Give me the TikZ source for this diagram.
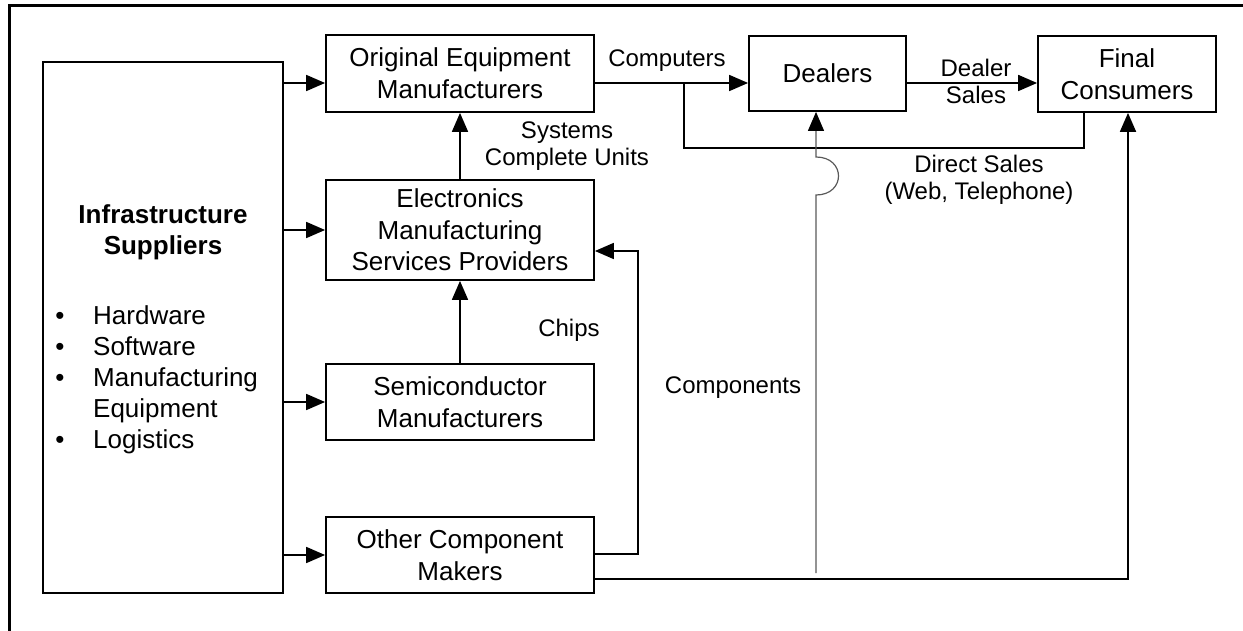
\documentclass[tikz,border=0pt]{standalone}
\usepackage{fontspec}
\setmainfont{Liberation Sans}
\usetikzlibrary{arrows.meta}

\newcommand\boxtextfont{\fontsize{26}{31.6}\selectfont}
\newcommand\labeltextfont{\fontsize{24}{27}\selectfont}

\begin{document}
\begin{tikzpicture}[x=1pt,y=-1pt,
  box/.style={draw, line width=1.8pt, inner sep=0pt, align=center, font=\boxtextfont},
  lbl/.style={inner sep=0pt, anchor=base, font=\labeltextfont},
  listtext/.style={inner sep=0pt, anchor=base west, font=\boxtextfont},
  conn/.style={line width=1.8pt, line join=miter},
  arr/.style={conn, -{Triangle[length=19pt,width=16pt]}},
]
\useasboundingbox (0,0) rectangle (1243,631);

% outer frame (top and left edges only)
\draw[line width=3pt, line join=miter] (1243,5.5) -- (9.5,5.5) -- (9.5,631);

% boxes
\node[box, minimum width=240pt, minimum height=531pt] (infra) at (163,327.5) {};
\node[box, minimum width=268pt, minimum height=77pt] (oem) at (460,73.5)
  {Original Equipment\\Manufacturers};
\node[box, minimum width=268pt, minimum height=100pt] (ems) at (460,230)
  {Electronics\\Manufacturing\\Services Providers};
\node[box, minimum width=268pt, minimum height=76pt] (semi) at (460,402)
  {Semiconductor\\Manufacturers};
\node[box, minimum width=268pt, minimum height=76pt] (other) at (460,555)
  {Other Component\\Makers};
\node[box, minimum width=157pt, minimum height=75pt] (dealers) at (827.5,73.5) {Dealers};
\node[box, minimum width=178pt, minimum height=76pt] (final) at (1127,74)
  {Final\\Consumers};

% text of the infrastructure box
\node[inner sep=0pt, anchor=base, font=\boxtextfont\bfseries] (infT1) at (163,224) {Infrastructure};
\node[inner sep=0pt, anchor=base, font=\boxtextfont\bfseries] (infT2) at (163,255) {Suppliers};
\foreach \y/\t/\b [count=\i] in {324/Hardware/1, 355/Software/1, 386/Manufacturing/1,
                                 417/Equipment/0, 448/Logistics/1}{
  \node[listtext] (item\i) at (93,\y) {\t};
  \ifnum\b=1
    \node[inner sep=0pt, anchor=base, font=\boxtextfont] (bul\i) at (60,\y) {\textbullet};
  \fi
}

% connector levels and bends
\coordinate (lvtop) at (0,83);
\coordinate (brX) at (684,148);
\coordinate (brR) at (1084,148);
\coordinate (cmpY) at (0,554);
\coordinate (cmpX) at (638,251);
\coordinate (botY) at (1128,579);
\coordinate (dlA) at (816,573);
\coordinate (dlB) at (816,195);
\coordinate (dlC) at (816,157);

% supplier arrows
\draw[arr] (infra.east |- lvtop) -- (oem.west |- lvtop);
\draw[arr] (infra.east |- ems.west) -- (ems.west);
\draw[arr] (infra.east |- semi.west) -- (semi.west);
\draw[arr] (infra.east |- other.west) -- (other.west);

% vertical flow
\draw[arr] (semi.north) -- (ems.south);
\draw[arr] (ems.north) -- (oem.south);

% computers to dealers, dealers to consumers
\draw[arr] (oem.east |- lvtop) -- (dealers.west |- lvtop);
\draw[arr] (dealers.east |- lvtop) -- (final.west |- lvtop);

% direct sales
\draw[conn] (brX |- lvtop) -- (brX) -- (brR) -- (brR |- final.south);

% components back to EMS
\draw[conn, -{Triangle[length=19pt,width=16pt]}]
  (other.east |- cmpY) -- (cmpX |- cmpY) -- (cmpX) -- (ems.east |- cmpX);

% other components to final consumers
\draw[arr] (other.east |- botY) -- (botY) -- (botY |- final.south);

% components to dealers, hopping over the direct-sales line
\draw[line width=1.2pt, black!65, -{Triangle[length=19pt,width=16pt,black]}]
  (dlA) -- (dlB) .. controls ++(30,0) and ++(30,0) .. (dlC) -- (dlC |- dealers.south);

% labels
\node[lbl] (lComp) at (667,67) {Computers};
\node[lbl] (lDealer) at (976,77) {Dealer};
\node[lbl] (lSales) at (976,104) {Sales};
\node[lbl] (lSys) at (567,139) {Systems};
\node[lbl] (lUnits) at (567,166) {Complete Units};
\node[lbl] (lDirect) at (979,173) {Direct Sales};
\node[lbl] (lWeb) at (979,200) {(Web, Telephone)};
\node[lbl] (lChips) at (569,336) {Chips};
\node[lbl] (lComps) at (733,393) {Components};
\end{tikzpicture}
\end{document}
